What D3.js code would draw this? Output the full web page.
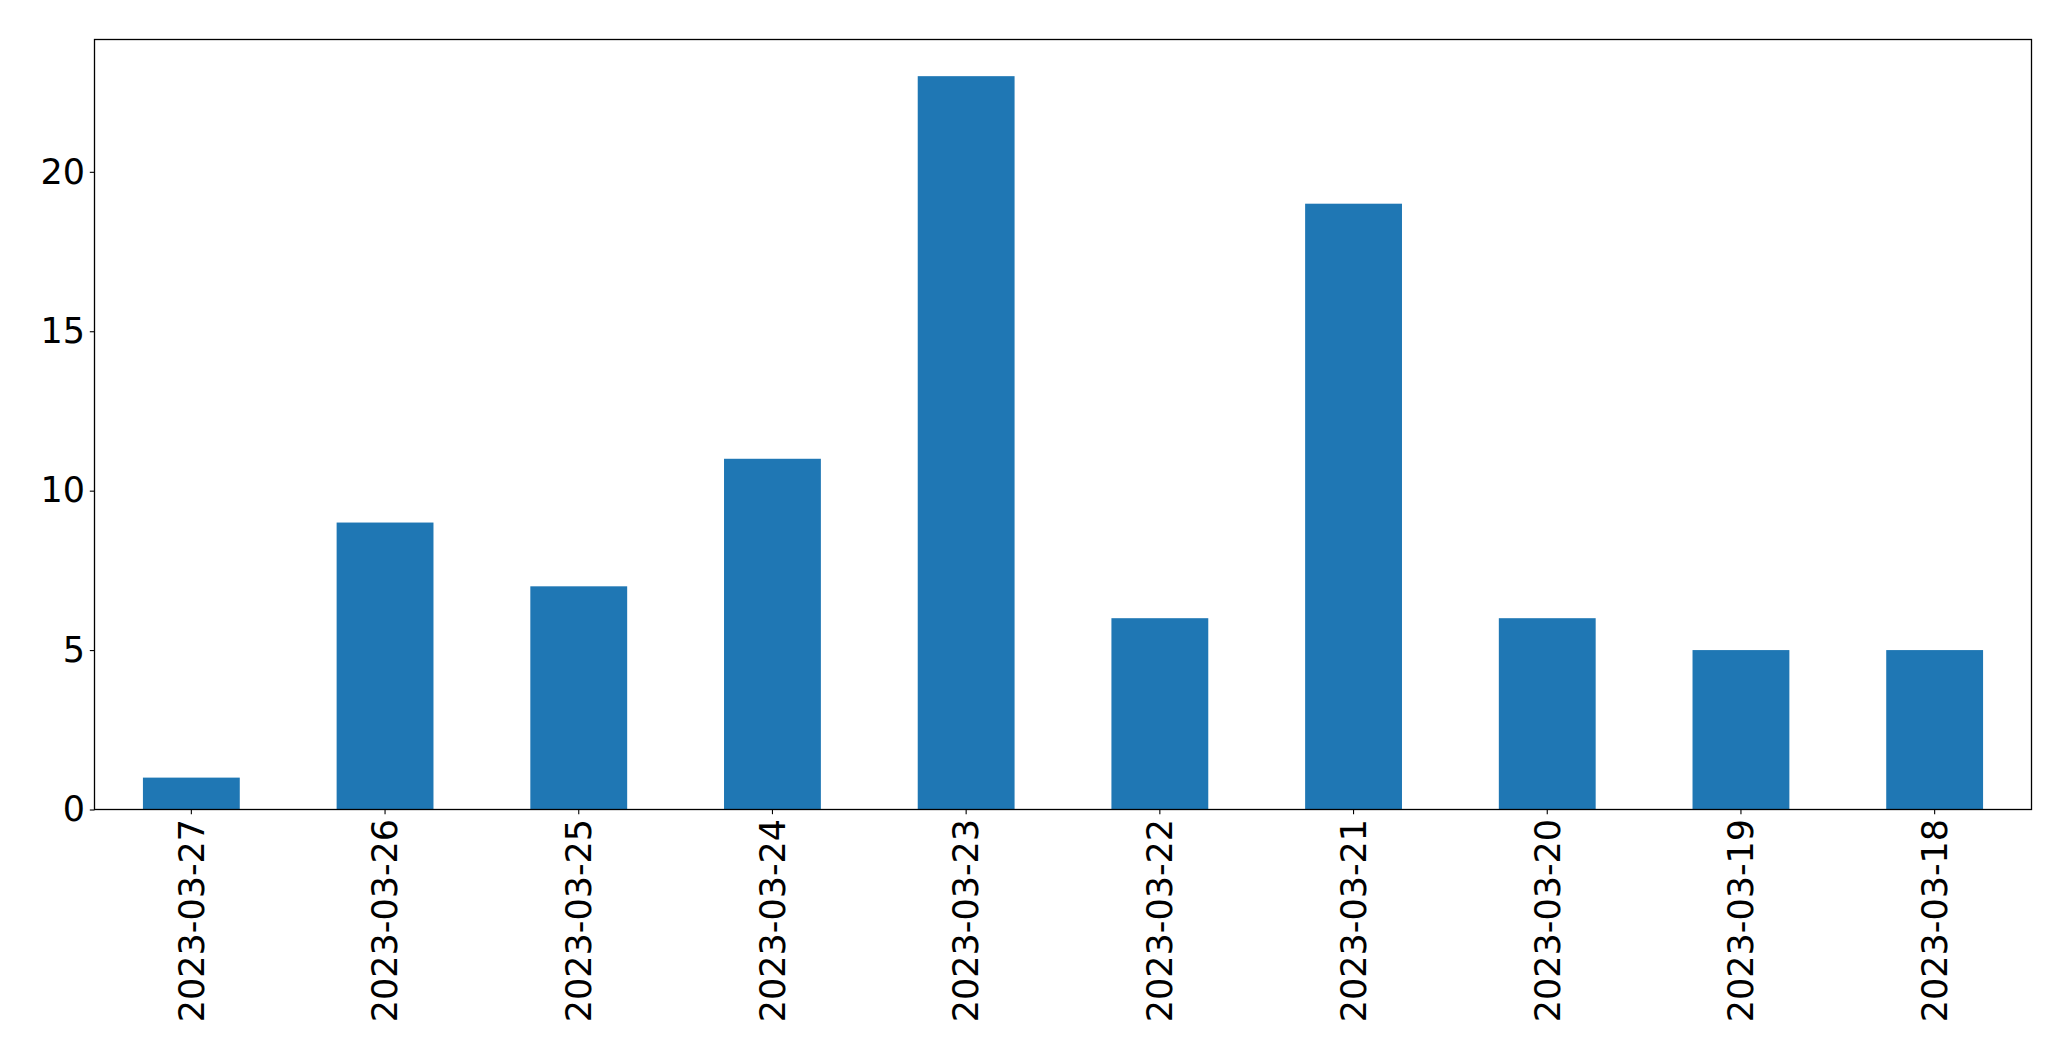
<!DOCTYPE html>
<html><head><meta charset="utf-8">
<script src="https://cdn.jsdelivr.net/npm/d3@7"></script>
<style>html,body{margin:0;padding:0;background:#fff}svg{display:block}</style>
</head><body>
<script>
const categories = ["2023-03-27","2023-03-26","2023-03-25","2023-03-24","2023-03-23","2023-03-22","2023-03-21","2023-03-20","2023-03-19","2023-03-18"];
const values = [1, 9, 7, 11, 23, 6, 19, 6, 5, 5];
const yTicks = [0, 5, 10, 15, 20];

const W = 2071, H = 1061;
const m = {left: 94.5, right: 2071 - 2031.5, top: 39.5, bottom: 1061 - 809.5};
const iw = W - m.left - m.right, ih = H - m.top - m.bottom;
const font = "DejaVu Sans";
const fs = 35;

const svg = d3.select("body").append("svg").attr("width", W).attr("height", H);
const g = svg.append("g").attr("transform", `translate(${m.left},${m.top})`);

const x = d3.scaleBand().domain(categories).range([0, iw]).paddingInner(0.5).paddingOuter(0.25);
const y = d3.scaleLinear().domain([0, d3.max(values) * 1.05]).range([ih, 0]);

g.selectAll("rect.bar").data(values).join("rect").attr("class","bar")
  .attr("x", (d,i) => x(categories[i]))
  .attr("width", x.bandwidth())
  .attr("y", d => y(d))
  .attr("height", d => ih - y(d))
  .attr("fill", "#1f77b4");

const yAxis = g.append("g").call(d3.axisLeft(y).tickValues(yTicks).tickSize(4.7).tickPadding(4.7).tickFormat(d3.format("d")));
yAxis.select(".domain").remove();
yAxis.selectAll("text").attr("font-family", font).attr("font-size", fs).attr("fill","#000");
yAxis.selectAll("line").attr("stroke","#000").attr("stroke-width",1.1);

const xAxis = g.append("g").attr("transform", `translate(0,${ih})`).call(d3.axisBottom(x).tickSize(4.7).tickPadding(4.7));
xAxis.select(".domain").remove();
xAxis.selectAll("line").attr("stroke","#000").attr("stroke-width",1.1);
xAxis.selectAll("text")
  .attr("font-family", font).attr("font-size", fs).attr("fill","#000")
  .attr("text-anchor","end")
  .attr("transform","rotate(-90)")
  .attr("x", -9.4).attr("y", 0).attr("dy","0.35em");

g.append("rect").attr("x",0).attr("y",0).attr("width",iw).attr("height",ih)
  .attr("fill","none").attr("stroke","#000").attr("stroke-width",1.3);
</script>
</body></html>
